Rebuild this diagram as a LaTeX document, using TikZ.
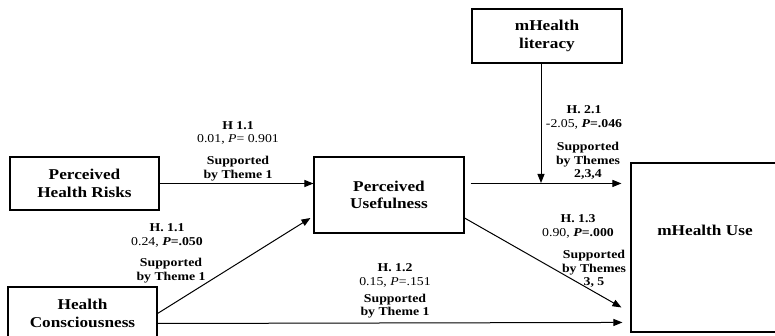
\documentclass[tikz,border=0pt]{standalone}
\usepackage{fontspec}
\setmainfont{Liberation Serif}[FakeStretch=1.15]
\usetikzlibrary{arrows.meta}
\tikzset{
  box/.style={draw, line width=1.1pt, inner sep=0pt, align=center, font=\fontsize{15}{17.5}\selectfont\bfseries},
  lbl/.style={inner sep=0pt, align=center, font=\fontsize{12}{13.5}\selectfont},
  arr/.style={line width=1pt, -{Triangle[length=9pt,width=7pt]}},
}
\begin{document}
\begin{tikzpicture}[x=1pt,y=-1pt]
\useasboundingbox (0,0) rectangle (775,336);
% boxes
\node[box, minimum width=149pt, minimum height=53pt] (phr) at (84.5,183.5) {Perceived\\Health Risks};
\node[box, minimum width=150pt, minimum height=76pt] (pu) at (389,195) {Perceived\\Usefulness};
\node[box, minimum width=150pt, minimum height=54pt] (lit) at (547,36) {mHealth\\literacy};
\node[box, minimum width=149pt, minimum height=169pt] (use) at (705.5,247.5) {};
\node[inner sep=0pt, font=\fontsize{15}{17.5}\selectfont\bfseries] (usetext) at (705,230) {mHealth Use};
\node[box, minimum width=149pt, minimum height=53pt] (hc) at (82.5,313.5) {Health\\Consciousness};
% connectors
\coordinate (m) at (541,183);
\draw[arr] (phr.east) -- (phr.east -| pu.west);
\draw[arr] ([shift={(6,27)}]pu.north east) -- ([shift={(-9,21)}]use.north west);
\draw[arr] (m |- lit.south) -- (m);
\draw[arr] (hc.east) -- ([shift={(-3,23)}]pu.west);
\draw[arr] ([shift={(0,23)}]pu.east) -- ([shift={(-9,145)}]use.north west);
\draw[arr] ([shift={(0,10)}]hc.east) -- ([shift={(-8,160)}]use.north west);
% labels
\node[lbl] (la1) at (238,132.9) {\textbf{H 1.1}\\0.01, \textit{P}= 0.901};
\node[lbl] (la2) at (238,168.5) {\textbf{Supported}\\\textbf{by Theme 1}};
\node[lbl] (lb1) at (584,117.4) {\textbf{H. 2.1}\\-2.05, \textbf{\textit{P}=.046}};
\node[lbl] (lb2) at (588,160.9) {\textbf{Supported}\\\textbf{by Themes}\\\textbf{2,3,4}};
\node[lbl] (lc1) at (167,235.4) {\textbf{H. 1.1}\\0.24, \textbf{\textit{P}=.050}};
\node[lbl] (lc2) at (171,270.5) {\textbf{Supported}\\\textbf{by Theme 1}};
\node[lbl] (ld1) at (395,275.5) {\textbf{H. 1.2}\\0.15, \textit{P}=.151};
\node[lbl] (ld2) at (395,306) {\textbf{Supported}\\\textbf{by Theme 1}};
\node[lbl] (le1) at (578,226.5) {\textbf{H. 1.3}\\0.90, \textbf{\textit{P}=.000}};
\node[lbl] (le2) at (594,268.9) {\textbf{Supported}\\\textbf{by Themes}\\\textbf{3, 5}};
\end{tikzpicture}
\end{document}
